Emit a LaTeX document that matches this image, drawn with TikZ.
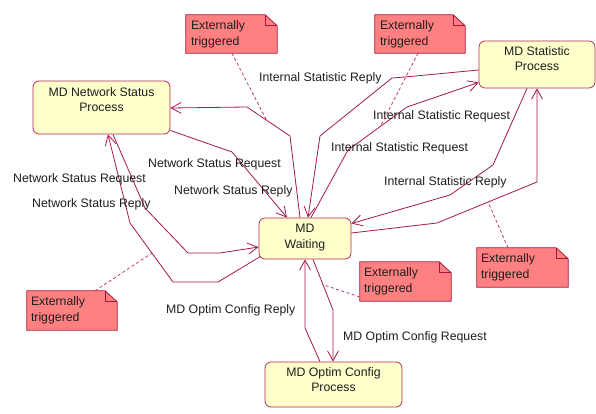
\documentclass[tikz,border=0pt]{standalone}
\usepackage{fontspec}
\setmainfont{Liberation Sans}
\usetikzlibrary{arrows.meta}

\definecolor{linecol}{RGB}{165,25,75}
\definecolor{boxfill}{RGB}{255,255,204}
\definecolor{boxline}{RGB}{180,45,90}
\definecolor{notefill}{RGB}{255,128,128}
\definecolor{noteline}{RGB}{170,20,60}
\definecolor{linkcol}{RGB}{195,60,100}
\definecolor{txt}{RGB}{30,30,30}

\tikzset{
  statebox/.style={draw=boxline, fill=boxfill, line width=0.8pt, rounded corners=6pt, inner sep=0pt},
  statetext/.style={anchor=north, align=center, inner sep=0pt, text=txt, font=\fontsize{12.3}{15.5}\selectfont},
  noteframe/.style={inner sep=0pt},
  notetext/.style={anchor=north west, align=left, inner sep=0pt, text=txt, font=\fontsize{12.3}{16}\selectfont},
  transition/.style={draw=linecol, line width=0.8pt, -{Straight Barb[length=10pt,width=11pt]}},
  notelink/.style={draw=linkcol, line width=0.8pt, dash pattern=on 3pt off 2.5pt},
  edgelabel/.style={anchor=base west, inner sep=0pt, text=txt, font=\fontsize{12.3}{15}\selectfont}
}

% folded-corner note outline around an empty frame node
\newcommand\dogear[1]{%
  \filldraw[fill=notefill, draw=noteline, line width=0.8pt, line join=miter]
    (#1.south west) -- (#1.north west) -- ([xshift=-12pt]#1.north east)
    -- ([yshift=-11pt]#1.north east) -- (#1.south east) -- cycle;
  \draw[noteline, line width=0.8pt]
    ([xshift=-12pt]#1.north east) -- ([xshift=-12pt,yshift=-11pt]#1.north east)
    -- ([yshift=-11pt]#1.north east);}

\begin{document}
\begin{tikzpicture}[x=1pt, y=-1pt]
\useasboundingbox[fill=white] (0,0) rectangle (596,414);

% states
\node[statebox, minimum width=137pt, minimum height=53pt] (net) at (101.5,107.5) {};
\node[statetext] (nettext) at ([yshift=-6.5pt]net.north) {MD Network Status\\Process};

\node[statebox, minimum width=116pt, minimum height=47pt] (stat) at (537,64.5) {};
\node[statetext] (stattext) at ([yshift=-5.5pt]stat.north) {MD Statistic\\Process};

\node[statebox, minimum width=92pt, minimum height=41pt] (wait) at (305,238.5) {};
\node[statetext] (waittext) at ([yshift=-6.5pt]wait.north) {MD\\Waiting};

\node[statebox, minimum width=137pt, minimum height=45pt] (optim) at (333.5,384.5) {};
\node[statetext] (optimtext) at ([yshift=-5.5pt]optim.north) {MD Optim Config\\Process};

% transitions
\draw[transition] ([yshift=-5.5pt]stat.west) -- (405,77) -- (392,78) -- (320,136) -- ([xshift=3pt]wait.north);
\draw[transition] ([xshift=6pt]wait.north) -- (348,150) -- (407,107) -- ([yshift=-18pt]stat.west);
\draw[transition] ([xshift=-5pt]wait.north) -- (290,136) -- (247,107) -- ([yshift=-0.5pt]net.east);
\draw[transition] ([yshift=-23pt]net.east) -- (232,152) -- ([xshift=-18pt]wait.north);
\draw[transition] ([shift={(2pt,3pt)}]wait.south west) -- (218,282) -- (173,282) -- (130,223) -- ([xshift=6.5pt]net.south);
\draw[transition] ([xshift=11.5pt]net.south) -- (145,208) -- (188,253) -- (220,253) -- ([yshift=-8.5pt]wait.west);
\draw[transition] ([xshift=-10pt]stat.south) -- (493,165) -- (450,195) -- ([yshift=15pt]wait.east);
\draw[transition] ([yshift=5.5pt]wait.east) -- (437,223) -- (537,182) -- (stat.south);
\draw[transition] ([xshift=-13.5pt]optim.north) -- (305,328) -- (wait.south);
\draw[transition] ([xshift=8pt]wait.south) -- (333,310) -- ([xshift=-0.5pt]optim.north);

% transition labels
\node[edgelabel] (l1) at (259,81.5) {Internal Statistic Reply};
\node[edgelabel] (l2) at (373,119.5) {Internal Statistic Request};
\node[edgelabel] (l3) at (331,151.5) {Internal Statistic Request};
\node[edgelabel] (l4) at (384,185.5) {Internal Statistic Reply};
\node[edgelabel] (l5) at (148,167.5) {Network Status Request};
\node[edgelabel] (l6) at (174,194.5) {Network Status Reply};
\node[edgelabel] (l7) at (13,182.5) {Network Status Request};
\node[edgelabel] (l8) at (32,207.5) {Network Status Reply};
\node[edgelabel] (l9) at (166,313.5) {MD Optim Config Reply};
\node[edgelabel] (l10) at (343,340.5) {MD Optim Config Request};

% notes
\node[noteframe, minimum width=91pt, minimum height=38pt] (n1) at (231.5,34) {};
\node[noteframe, minimum width=90pt, minimum height=38pt] (n2) at (420,34) {};
\node[noteframe, minimum width=90pt, minimum height=39pt] (n3) at (72,310.5) {};
\node[noteframe, minimum width=91pt, minimum height=39pt] (n4) at (405.5,281.5) {};
\node[noteframe, minimum width=91pt, minimum height=39pt] (n5) at (522.5,267.5) {};
\dogear{n1}\dogear{n2}\dogear{n3}\dogear{n4}\dogear{n5}
\node[notetext] (n1t) at ([shift={(5pt,-5.5pt)}]n1.north west) {Externally\\triggered};
\node[notetext] (n2t) at ([shift={(5pt,-5.5pt)}]n2.north west) {Externally\\triggered};
\node[notetext] (n3t) at ([shift={(4pt,-5.5pt)}]n3.north west) {Externally\\triggered};
\node[notetext] (n4t) at ([shift={(4pt,-5.5pt)}]n4.north west) {Externally\\triggered};
\node[notetext] (n5t) at ([shift={(4pt,-5.5pt)}]n5.north west) {Externally\\triggered};

% note anchors
\coordinate (k1) at (267,121);
\coordinate (k2) at (380,127);
\coordinate (k3) at (152,253);
\coordinate (k4) at (324,285);
\coordinate (k5) at (488,202);
\draw[notelink] ([xshift=0.5pt]n1.south) -- (k1);
\draw[notelink] ([xshift=-2pt]n2.south) -- (k2);
\draw[notelink] ([xshift=23pt]n3.north) -- (k3);
\draw[notelink] ([yshift=-15.5pt]n4.west) -- (k4);
\draw[notelink] ([xshift=-14.5pt]n5.north) -- (k5);
\end{tikzpicture}
\end{document}
